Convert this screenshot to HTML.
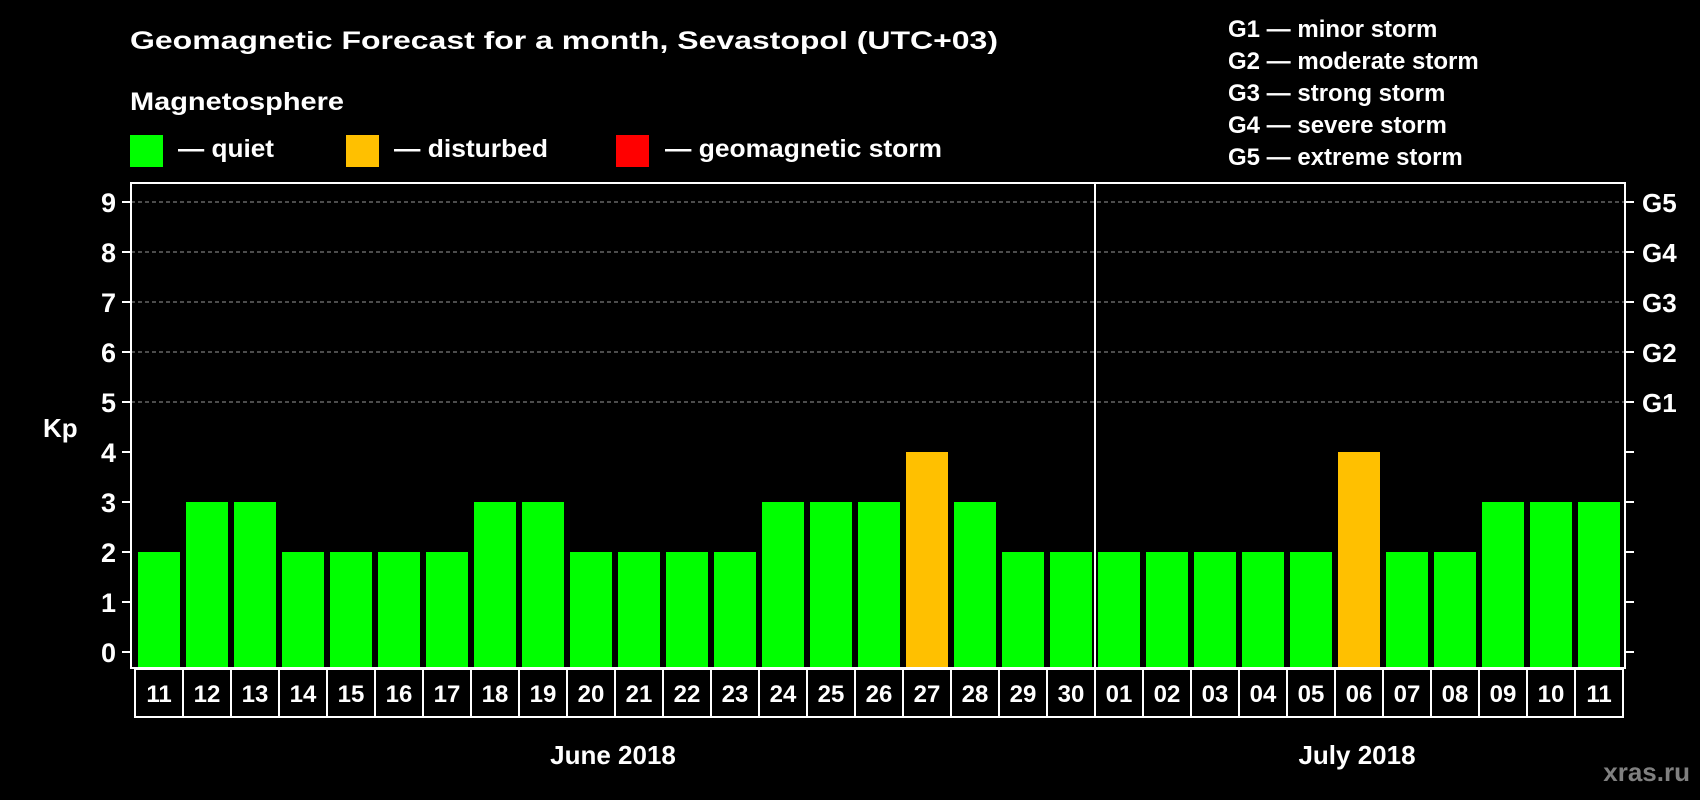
<!DOCTYPE html>
<html><head><meta charset="utf-8"><style>
html,body{margin:0;padding:0;background:#000;}
svg{display:block;font-family:"Liberation Sans",Arial,sans-serif;font-weight:bold;}
</style></head><body>
<svg id="chart" width="1700" height="800" viewBox="0 0 1700 800" xmlns="http://www.w3.org/2000/svg">
<rect width="1700" height="800" fill="#000"/>
<text x="130" y="49" fill="#fff" font-size="25" textLength="868" lengthAdjust="spacingAndGlyphs">Geomagnetic Forecast for a month, Sevastopol (UTC+03)</text>
<text x="130" y="110" fill="#fff" font-size="25" textLength="214" lengthAdjust="spacingAndGlyphs">Magnetosphere</text>
<g>
<rect x="130" y="135" width="33" height="32" fill="#00ff00"/>
<text x="178" y="157" fill="#fff" font-size="25" textLength="96" lengthAdjust="spacingAndGlyphs">— quiet</text></g>
<g>
<rect x="346" y="135" width="33" height="32" fill="#ffc000"/>
<text x="394" y="157" fill="#fff" font-size="25" textLength="154" lengthAdjust="spacingAndGlyphs">— disturbed</text></g>
<g>
<rect x="616" y="135" width="33" height="32" fill="#ff0000"/>
<text x="665" y="157" fill="#fff" font-size="25" textLength="277" lengthAdjust="spacingAndGlyphs">— geomagnetic storm</text></g>
<g fill="#fff" font-size="24">
<text x="1228" y="37">G1 — minor storm</text>
<text x="1228" y="69">G2 — moderate storm</text>
<text x="1228" y="101">G3 — strong storm</text>
<text x="1228" y="133">G4 — severe storm</text>
<text x="1228" y="165">G5 — extreme storm</text>
</g>
<text x="43" y="437" fill="#fff" font-size="26">Kp</text>
<g id="grid"></g><g id="bars"></g><g id="axes"></g><g id="labels"></g>
<text x="613" y="764" fill="#fff" font-size="26" text-anchor="middle">June 2018</text>
<text x="1357" y="764" fill="#fff" font-size="26" text-anchor="middle">July 2018</text>
<text x="1690" y="781" fill="#808080" font-size="26" text-anchor="end">xras.ru</text>
</svg>
<script>
const days = ["11","12","13","14","15","16","17","18","19","20","21","22","23","24","25","26","27","28","29","30","01","02","03","04","05","06","07","08","09","10","11"];
const kpValues = [2,3,3,2,2,2,2,3,3,2,2,2,2,3,3,3,4,3,2,2,2,2,2,2,2,4,2,2,3,3,3];
const yTicks = [0,1,2,3,4,5,6,7,8,9];
const gLabels = ["G1","G2","G3","G4","G5"];
const gLevels = [5,6,7,8,9];
const monthSplitIndex = 20;

const NS = "http://www.w3.org/2000/svg";
const L = 131, R = 1625, T = 183, B = 668;
const x0 = 135, pitch = 48, bw = 42;
function y(v){ return 652 - v * 50; }
function xb(i){ return x0 + i * pitch; }
function mk(tag, attrs, parent){ const e = document.createElementNS(NS, tag); for (const k in attrs) e.setAttribute(k, attrs[k]); parent.appendChild(e); return e; }
const grid = document.getElementById('grid'), bars = document.getElementById('bars'), axes = document.getElementById('axes'), labels = document.getElementById('labels');

gLevels.forEach((lv, i) => {
  const g = mk('line', {x1:L, x2:R, y1:y(lv), y2:y(lv), stroke:'#999', 'stroke-width':1, 'stroke-dasharray':'4,3'}, grid);
  
  
  const t = mk('text', {x:1642, y:y(lv)+10, fill:'#fff', 'font-size':26}, axes);
  t.textContent = gLabels[i];
  
  
});

kpValues.forEach((v, i) => {
  const r = mk('rect', {x:xb(i)+3, y:y(v), width:bw, height:B - y(v), fill: v >= 5 ? '#ff0000' : (v >= 4 ? '#ffc000' : '#00ff00')}, bars);
  
  
  const box = mk('rect', {x:xb(i), y:B+1, width:pitch, height:48, fill:'none', stroke:'#fff', 'stroke-width':2}, labels);
  
  
  const t = mk('text', {x:xb(i)+pitch/2, y:B+34, fill:'#fff', 'font-size':24, 'text-anchor':'middle'}, labels);
  t.textContent = days[i];
  
  
});

yTicks.forEach(v => {
  const tl = mk('line', {x1:122, x2:L, y1:y(v), y2:y(v), stroke:'#fff', 'stroke-width':2}, axes);
  
  
  const tr = mk('line', {x1:R, x2:1634, y1:y(v), y2:y(v), stroke:'#fff', 'stroke-width':2}, axes);
  
  
  const t = mk('text', {x:116, y:y(v)+10, fill:'#fff', 'font-size':27, 'text-anchor':'end'}, axes);
  t.textContent = v;
  
  
});

const frame = mk('rect', {x:L, y:T, width:R-L, height:B-T, fill:'none', stroke:'#fff', 'stroke-width':2}, axes);


const sx = xb(monthSplitIndex);
const sep = mk('line', {x1:sx, x2:sx, y1:T, y2:B, stroke:'#fff', 'stroke-width':2}, axes);


</script>
</body></html>
